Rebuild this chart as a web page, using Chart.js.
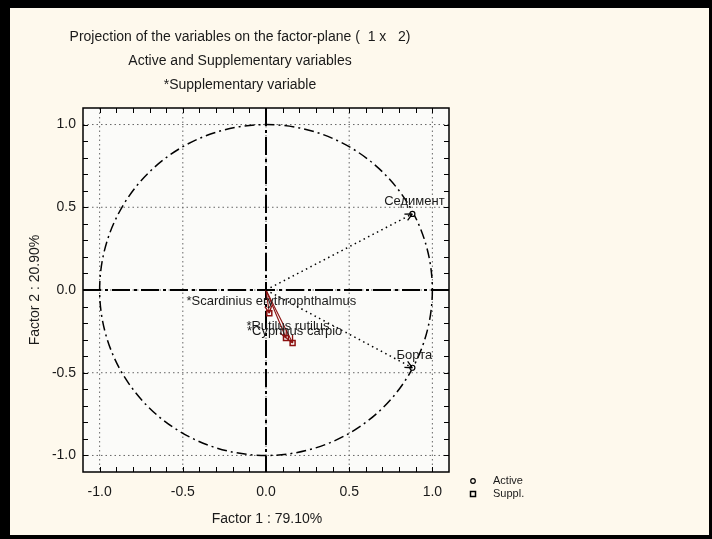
<!DOCTYPE html>
<html>
<head>
<meta charset="utf-8">
<script src="https://cdn.jsdelivr.net/npm/chart.js@4/dist/chart.umd.min.js"></script>
<style>
  html, body { margin: 0; padding: 0; background: #000; }
  #wrap { width: 712px; height: 539px; }
  canvas { display: block; }
</style>
</head>
<body>
<div id="wrap"><canvas id="c"></canvas></div>
<script>
// Factor coordinates of the variables (factor 1 = x, factor 2 = y)
const activeNames = ['Седимент', 'Борта'];
const activeX = [0.88, 0.88];
const activeY = [0.46, -0.47];

const supplNames = ['*Scardinius erythrophthalmus', '*Rutilus rutilus', '*Cyprinus carpio'];
const supplX = [0.02, 0.12, 0.16];
const supplY = [-0.14, -0.29, -0.32];

const axisTicks = [-1.0, -0.5, 0.0, 0.5, 1.0];
const minorStep = 0.1;

const titleLines = [
  'Projection of the variables on the factor-plane (  1 x   2)',
  'Active and Supplementary variables',
  '*Supplementary variable'
];
const xTitle = 'Factor 1 : 79.10%';
const yTitle = 'Factor 2 : 20.90%';
const legendItems = ['Active', 'Suppl.'];

const FONT = '"Liberation Sans", Arial, sans-serif';
const TEXT = '#1a1a1a';
const RED = '#8b1010';

const datasets = [];
activeNames.forEach((name, i) => {
  datasets.push({
    label: name,
    data: [{ x: 0, y: 0 }, { x: activeX[i], y: activeY[i] }],
    showLine: true,
    borderColor: '#000',
    borderWidth: 1.5,
    borderDash: [1.5, 3.5],
    pointStyle: 'circle',
    pointRadius: [0, 2.5],
    pointBorderColor: '#000',
    pointBackgroundColor: '#fff',
    pointBorderWidth: 1.2
  });
});
supplNames.forEach((name, i) => {
  datasets.push({
    label: name,
    data: [{ x: 0, y: 0 }, { x: supplX[i], y: supplY[i] }],
    showLine: true,
    borderColor: RED,
    borderWidth: 1.1,
    pointStyle: 'rect',
    pointRadius: [0, 3.5],
    pointBorderColor: RED,
    pointBackgroundColor: 'rgba(255,255,255,0)',
    pointBorderWidth: 1.5
  });
});

function dashLine(ctx, x1, y1, x2, y2, dash, width, color) {
  ctx.save();
  ctx.beginPath();
  ctx.setLineDash(dash);
  ctx.lineWidth = width;
  ctx.strokeStyle = color;
  ctx.moveTo(x1, y1);
  ctx.lineTo(x2, y2);
  ctx.stroke();
  ctx.restore();
}

const factorPlane = {
  id: 'factorPlane',
  beforeDraw(chart) {
    const { ctx, width, height, chartArea: a } = chart;
    ctx.save();
    ctx.fillStyle = '#000';
    ctx.fillRect(0, 0, width, height);
    ctx.fillStyle = '#fef9ed';
    ctx.fillRect(10, 8, width - 13, height - 12);
    ctx.fillStyle = '#fbfbf9';
    ctx.fillRect(a.left, a.top, a.right - a.left, a.bottom - a.top);
    ctx.restore();
  },
  beforeDatasetsDraw(chart) {
    const { ctx, chartArea: a, scales: { x, y } } = chart;
    // dotted grid at the labelled values
    axisTicks.forEach(v => {
      const px = x.getPixelForValue(v);
      const py = y.getPixelForValue(v);
      dashLine(ctx, px, a.top, px, a.bottom, [1.5, 3], 1, '#666');
      dashLine(ctx, a.left, py, a.right, py, [1.5, 3], 1, '#666');
    });
    // zero axes
    const x0 = x.getPixelForValue(0), y0 = y.getPixelForValue(0);
    dashLine(ctx, a.left, y0, a.right, y0, [18, 4, 3, 4], 2, '#000');
    dashLine(ctx, x0, a.top, x0, a.bottom, [18, 4, 3, 4], 2, '#000');
    // unit circle
    const rx = x.getPixelForValue(1) - x0;
    const ry = y0 - y.getPixelForValue(1);
    ctx.save();
    ctx.beginPath();
    ctx.setLineDash([10, 4, 2, 4]);
    ctx.lineWidth = 1.5;
    ctx.strokeStyle = '#000';
    ctx.ellipse(x0, y0, rx, ry, 0, 0, Math.PI * 2);
    ctx.stroke();
    ctx.restore();
  },
  afterDatasetsDraw(chart) {
    const { ctx, chartArea: a, scales: { x, y } } = chart;
    // frame with inward minor ticks
    ctx.save();
    ctx.strokeStyle = '#000';
    ctx.lineWidth = 1.5;
    ctx.strokeRect(a.left, a.top, a.right - a.left, a.bottom - a.top);
    ctx.lineWidth = 1;
    for (let i = -10; i <= 10; i++) {
      const v = i * minorStep;
      const px = Math.round(x.getPixelForValue(v)) + 0.5;
      const py = Math.round(y.getPixelForValue(v)) + 0.5;
      ctx.beginPath();
      ctx.moveTo(px, a.bottom); ctx.lineTo(px, a.bottom - 5);
      ctx.moveTo(px, a.top); ctx.lineTo(px, a.top + 5);
      ctx.moveTo(a.left, py); ctx.lineTo(a.left + 5, py);
      ctx.moveTo(a.right, py); ctx.lineTo(a.right - 5, py);
      ctx.stroke();
    }
    ctx.restore();

    // arrow heads and labels
    const x0 = x.getPixelForValue(0), y0 = y.getPixelForValue(0);
    chart.data.datasets.forEach((ds, i) => {
      const p = chart.getDatasetMeta(i).data[1];
      const ang = Math.atan2(p.y - y0, p.x - x0);
      ctx.save();
      ctx.strokeStyle = ds.borderColor;
      ctx.lineWidth = 1.3;
      ctx.beginPath();
      [0.45, -0.45].forEach(d => {
        ctx.moveTo(p.x, p.y);
        ctx.lineTo(p.x - 8 * Math.cos(ang + d), p.y - 8 * Math.sin(ang + d));
      });
      ctx.stroke();
      ctx.fillStyle = TEXT;
      ctx.font = '13px ' + FONT;
      ctx.textAlign = 'center';
      ctx.textBaseline = 'middle';
      ctx.fillText(ds.label, p.x + 2, p.y - 12);
      ctx.restore();
    });

    // titles
    ctx.save();
    ctx.fillStyle = TEXT;
    ctx.font = '14px ' + FONT;
    ctx.textAlign = 'center';
    ctx.textBaseline = 'middle';
    titleLines.forEach((t, i) => ctx.fillText(t, 240, 37 + i * 24));
    ctx.fillText(xTitle, (a.left + a.right) / 2 + 1, 519);
    ctx.save();
    ctx.translate(35, (a.top + a.bottom) / 2);
    ctx.rotate(-Math.PI / 2);
    ctx.fillText(yTitle, 0, 0);
    ctx.restore();

    // legend
    const lx = a.right + 24;
    ctx.font = '11px ' + FONT;
    ctx.textAlign = 'left';
    ctx.strokeStyle = '#000';
    ctx.lineWidth = 1.2;
    ctx.beginPath();
    ctx.arc(lx, 481, 2.3, 0, Math.PI * 2);
    ctx.stroke();
    ctx.fillText(legendItems[0], lx + 20, 481);
    ctx.lineWidth = 1.5;
    ctx.strokeRect(lx - 2.5, 491.5, 5, 5);
    ctx.fillText(legendItems[1], lx + 20, 494);
    ctx.restore();
  }
};

const axisCommon = {
  type: 'linear',
  min: -1.1,
  max: 1.1,
  grid: { display: false, drawTicks: false },
  border: { display: false },
  ticks: {
    autoSkip: false,
    maxRotation: 0,
    color: TEXT,
    font: { family: FONT, size: 14 },
    callback: v => v.toFixed(1)
  },
  afterBuildTicks: s => { s.ticks = axisTicks.map(v => ({ value: v })); }
};

new Chart(document.getElementById('c'), {
  type: 'scatter',
  data: { datasets },
  plugins: [factorPlane],
  options: {
    responsive: true,
    maintainAspectRatio: false,
    animation: false,
    layout: { padding: { top: 108, left: 10, right: 263, bottom: 0 } },
    plugins: { legend: { display: false }, title: { display: false }, tooltip: { enabled: false } },
    scales: {
      x: Object.assign({}, axisCommon, {
        ticks: Object.assign({}, axisCommon.ticks, { padding: 12 }),
        afterFit: s => { s.height = 67; }
      }),
      y: Object.assign({}, axisCommon, {
        ticks: Object.assign({}, axisCommon.ticks, { padding: 7 }),
        afterFit: s => { s.width = 73; }
      })
    }
  }
});
</script>
</body>
</html>
